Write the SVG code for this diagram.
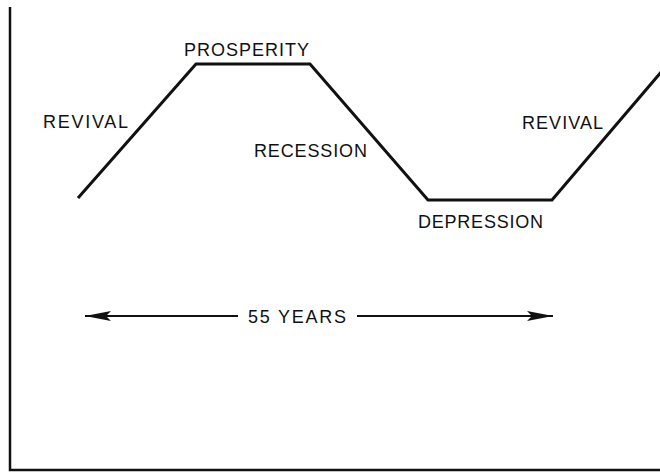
<svg xmlns="http://www.w3.org/2000/svg" width="660" height="472" viewBox="0 0 660 472">
<style>
.ln{fill:none;stroke:#111;stroke-width:3;stroke-linejoin:miter;stroke-linecap:butt}
.bd{fill:none;stroke:#111;stroke-width:2.5}
.t{font-family:"Liberation Sans",Arial,sans-serif;font-size:18px;fill:#111}
</style>
<defs>
<marker id="ah" viewBox="0 0 26 10" refX="26" refY="5" markerWidth="26" markerHeight="10" markerUnits="userSpaceOnUse" orient="auto-start-reverse">
<path d="M0,0 L26,5 L0,10 L5,5 Z" fill="#111"/>
</marker>
</defs>
<rect width="660" height="472" fill="#fff"/>
<g id="frame">
<path class="bd" d="M10,7 V470 H660"/>
</g>
<g id="curve">
<path class="ln" d="M78,198 L196,64 L310,64 L428,200 L552,200 L662,71"/>
</g>
<g id="labels">
<text class="t" x="43" y="128" textLength="85" lengthAdjust="spacing">REVIVAL</text>
<text class="t" x="184" y="56" textLength="125" lengthAdjust="spacing">PROSPERITY</text>
<text class="t" x="254" y="157" textLength="113" lengthAdjust="spacing">RECESSION</text>
<text class="t" x="522" y="129" textLength="81" lengthAdjust="spacing">REVIVAL</text>
<text class="t" x="418" y="228" textLength="125" lengthAdjust="spacing">DEPRESSION</text>
<text class="t" x="248" y="323" textLength="98" lengthAdjust="spacing">55 YEARS</text>
</g>
<g id="connectors">
<line x1="238" y1="316" x2="85" y2="316" stroke="#111" stroke-width="2" marker-end="url(#ah)"/>
<line x1="357" y1="316" x2="553" y2="316" stroke="#111" stroke-width="2" marker-end="url(#ah)"/>
</g>
</svg>
